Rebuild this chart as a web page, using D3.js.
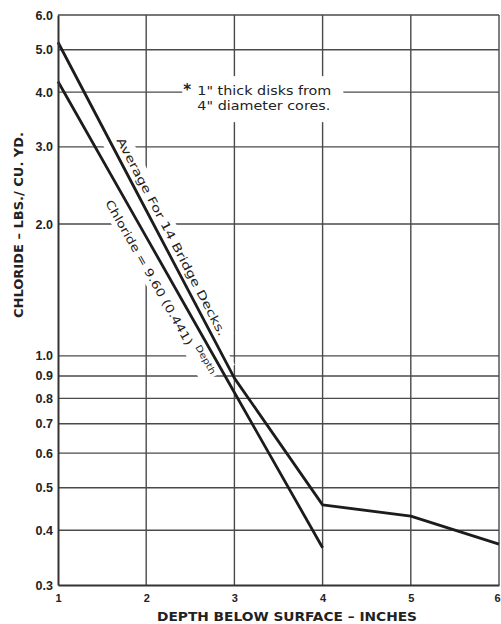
<!DOCTYPE html>
<html>
<head>
<style>
  body { margin: 0; background: #fff; }
  svg { font-family: "DejaVu Sans", sans-serif; }
  .grid line { stroke: #4a4a4a; stroke-width: 1.4; }
  .axis path { stroke: #333; stroke-width: 2; }
  .axis text { fill: #222; font-weight: bold; }
  .data { fill: none; stroke: #1c1c1c; stroke-width: 2.8; stroke-linejoin: round; }
  .note { fill: #222; }
</style>
<script src="https://cdn.jsdelivr.net/npm/d3@7"></script>
</head>
<body>
<svg width="501" height="624"></svg>
<script>
// depth below surface (inches)
var depths = [1, 2, 3, 4, 5, 6];
// average for 14 bridge decks
var averageValues = [5.2, 2.15, 0.89, 0.457, 0.431, 0.372];
// fitted curve: Chloride = 9.60 (0.441)^Depth
var fitDepths = [1, 2, 3, 4];
var fitValues = [4.23, 1.87, 0.825, 0.365];

var yTicks = [0.3, 0.4, 0.5, 0.6, 0.7, 0.8, 0.9, 1.0, 2.0, 3.0, 4.0, 5.0, 6.0];
var yTickLabels = ["0.3", "0.4", "0.5", "0.6", "0.7", "0.8", "0.9", "1.0", "2.0", "3.0", "4.0", "5.0", "6.0"];
var xTicks = [1, 2, 3, 4, 5, 6];
var xTickLabels = ["1", "2", "3", "4", "5", "6"];

var svg = d3.select("svg");
var plotL = 58, plotR = 499, plotT = 15, plotB = 585;

var x = d3.scaleLinear().domain([1, 6]).range([plotL, plotR]);
var y = d3.scaleLog().domain([0.3, 6]).range([plotB, plotT]);

var gridG = svg.append("g").attr("class", "grid");
var eraseG = svg.append("g");
var lineG = svg.append("g");
var textG = svg.append("g");

// grid
gridG.selectAll(".h").data(yTicks.slice(1)).enter().append("line")
  .attr("x1", plotL).attr("x2", plotR)
  .attr("y1", function(d) { return y(d); }).attr("y2", function(d) { return y(d); });
gridG.selectAll(".v").data(xTicks.slice(1)).enter().append("line")
  .attr("y1", plotT).attr("y2", plotB)
  .attr("x1", function(d) { return x(d); }).attr("x2", function(d) { return x(d); });

// axes
var yAxis = svg.append("g").attr("class", "axis")
  .attr("transform", "translate(" + plotL + ",0)")
  .call(d3.axisLeft(y).tickValues(yTicks)
    .tickFormat(function(d, i) { return yTickLabels[i]; })
    .tickSize(0).tickPadding(5));
yAxis.selectAll("text").style("font-size", "12.5px");

var xAxis = svg.append("g").attr("class", "axis")
  .attr("transform", "translate(0," + plotB + ")")
  .call(d3.axisBottom(x).tickValues(xTicks)
    .tickFormat(function(d, i) { return xTickLabels[i]; })
    .tickSize(0).tickPadding(9));
xAxis.selectAll("text").style("font-size", "11px");
// last label sits on the right edge
xAxis.selectAll(".tick").filter(function(d) { return d === 6; })
  .select("text").attr("dx", -2);

// axis titles
svg.append("text")
  .attr("transform", "translate(23,225) rotate(-90)")
  .attr("text-anchor", "middle")
  .attr("font-size", 12.5).attr("font-weight", "bold").attr("fill", "#222")
  .attr("textLength", 186).attr("lengthAdjust", "spacingAndGlyphs")
  .text("CHLORIDE – LBS./ CU. YD.");

svg.append("text")
  .attr("x", 287).attr("y", 621)
  .attr("text-anchor", "middle")
  .attr("font-size", 12.5).attr("font-weight", "bold").attr("fill", "#222")
  .attr("textLength", 260).attr("lengthAdjust", "spacingAndGlyphs")
  .text("DEPTH BELOW SURFACE – INCHES");

// data lines
var line = d3.line()
  .x(function(d) { return x(d[0]); })
  .y(function(d) { return y(d[1]); });

lineG.append("path").attr("class", "data")
  .attr("d", line(d3.zip(depths, averageValues)));
lineG.append("path").attr("class", "data")
  .attr("d", line(d3.zip(fitDepths, fitValues)));

// helpers for labels along the lines
function pointOn(ds, vs, d) {
  var i = Math.max(0, d3.bisectRight(ds, d) - 1);
  if (i >= ds.length - 1) i = ds.length - 2;
  var t = (d - ds[i]) / (ds[i + 1] - ds[i]);
  return [x(d), y(vs[i]) + t * (y(vs[i + 1]) - y(vs[i]))];
}
function angleOf(ds, vs, i0, i1) {
  return Math.atan2(y(vs[i1]) - y(vs[i0]), x(ds[i1]) - x(ds[i0])) * 180 / Math.PI;
}

// "Average For 14 Bridge Decks."
var avgP = pointOn(depths, averageValues, 1.6);
var avgA = angleOf(depths, averageValues, 0, 2);
var avgT = "translate(" + avgP[0] + "," + avgP[1] + ") rotate(" + avgA + ")";
var avgLen = 222;
eraseG.append("rect").attr("transform", avgT)
  .attr("x", -4).attr("y", -20).attr("width", avgLen + 8).attr("height", 28)
  .attr("fill", "#fff");
textG.append("text").attr("class", "note").attr("transform", avgT)
  .attr("x", 0).attr("y", -6)
  .attr("font-size", 11.5)
  .attr("textLength", avgLen).attr("lengthAdjust", "spacingAndGlyphs")
  .text("Average For 14 Bridge Decks.");

// "Chloride = 9.60 (0.441)^Depth"
var fitP = pointOn(fitDepths, fitValues, 1.72);
var fitA = angleOf(fitDepths, fitValues, 0, 3);
var fitT = "translate(" + fitP[0] + "," + fitP[1] + ") rotate(" + fitA + ")";
var fitLen = 205;
eraseG.append("rect").attr("transform", fitT)
  .attr("x", -4).attr("y", -14).attr("width", fitLen + 4).attr("height", 38)
  .attr("fill", "#fff");
var fitLabel = textG.append("g").attr("transform", fitT);
fitLabel.append("text").attr("class", "note")
  .attr("x", 0).attr("y", 19)
  .attr("font-size", 11.5)
  .attr("textLength", 165).attr("lengthAdjust", "spacingAndGlyphs")
  .text("Chloride = 9.60 (0.441)");
fitLabel.append("text").attr("class", "note")
  .attr("x", 170).attr("y", 12)
  .attr("font-size", 9)
  .attr("textLength", 32).attr("lengthAdjust", "spacingAndGlyphs")
  .text("Depth");

// note at top
var noteG = textG.append("g");
noteG.append("text").attr("class", "note")
  .attr("x", x(2.42)).attr("y", y(4.0) + 3)
  .attr("font-size", 15).attr("font-weight", "bold")
  .text("*");
noteG.append("text").attr("class", "note")
  .attr("x", x(2.58)).attr("y", y(4.0) + 3)
  .attr("font-size", 12)
  .attr("textLength", 134).attr("lengthAdjust", "spacingAndGlyphs")
  .text("1\" thick disks from");
noteG.append("text").attr("class", "note")
  .attr("x", x(2.58)).attr("y", y(4.0) + 18)
  .attr("font-size", 12)
  .attr("textLength", 133).attr("lengthAdjust", "spacingAndGlyphs")
  .text("4\" diameter cores.");
var nb = noteG.node().getBBox();
eraseG.append("rect")
  .attr("x", nb.x - 1).attr("y", nb.y - 5)
  .attr("width", nb.width + 13).attr("height", nb.height + 14)
  .attr("fill", "#fff");
</script>
</body>
</html>
